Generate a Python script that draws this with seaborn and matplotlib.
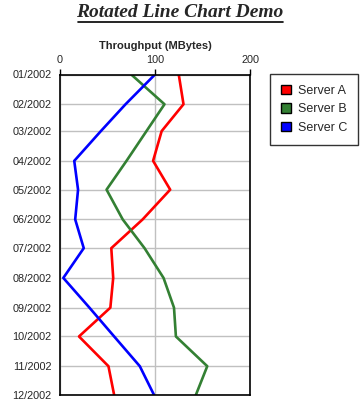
import numpy as np
import pandas as pd
import matplotlib
matplotlib.use("Agg")
import matplotlib.pyplot as plt
import matplotlib.dates as mdates
from matplotlib.patches import Patch
from matplotlib.lines import Line2D
import seaborn as sns

# data
months = pd.date_range("2002-01-01", periods=12, freq="MS")
server_a = [125, 130, 107, 98, 116, 87, 54, 56, 53, 20, 51, 57]
server_b = [75, 110, 91, 70, 49, 66, 89, 109, 120, 122, 155, 143]
server_c = [100, 69, 43, 15, 19, 16, 25, 3.5, 31, 57, 84, 99]
series_names = ["Server A", "Server B", "Server C"]
colors = ["#ff0000", "#338033", "#0000ff"]

df = pd.DataFrame({
    "month": np.tile(months, 3),
    "value": server_a + server_b + server_c,
    "server": np.repeat(series_names, 12),
})

sns.set_style("white")
plt.rcParams["font.family"] = ["Liberation Sans", "DejaVu Sans"]

fig = plt.figure(figsize=(3.6, 4.0), dpi=100)
ax = fig.add_axes([60 / 360, 1 - 395 / 400, 190 / 360, (395 - 74.5) / 400])

sns.lineplot(data=df, x="value", y="month", hue="server", orient="y",
             palette=colors, linewidth=1.9, ax=ax, legend=False, sort=False)

ax.set_xlim(0, 200)
ax.set_ylim(months[-1], months[0])
ax.set_xticks([0, 100, 200])
ax.set_yticks(months)
ax.yaxis.set_major_formatter(mdates.DateFormatter("%m/%Y"))
ax.xaxis.tick_top()
ax.xaxis.set_label_position("top")
ax.set_xlabel("Throughput (MBytes)", fontsize=8, fontweight="bold", labelpad=4)
ax.set_ylabel("")
ax.tick_params(axis="both", direction="out", length=4, width=1, color="black",
               labelsize=7.8, pad=2)
ax.tick_params(axis="x", pad=3)
ax.grid(True, color="#c0c0c0", linewidth=1)
ax.set_axisbelow(True)
for sp in ax.spines.values():
    sp.set_color("black")
    sp.set_linewidth(1.2)

# title, underlined
fig.text(0.5, 1 - 12.5 / 400, "Rotated Line Chart Demo", ha="center", va="center",
         fontsize=14, fontweight="bold", fontstyle="italic",
         family=["Liberation Serif", "DejaVu Serif"])
fig.add_artist(Line2D([78 / 360, 283 / 360], [1 - 21.5 / 400, 1 - 21.5 / 400],
                      color="black", linewidth=1.2))

handles = [Patch(facecolor=c, edgecolor="black", linewidth=1) for c in colors]
leg = fig.legend(handles, series_names, loc="upper left",
                 bbox_to_anchor=(270 / 360, 1 - 73.5 / 400), fontsize=9,
                 frameon=True, fancybox=False, edgecolor="black",
                 handlelength=0.8, handleheight=0.8, handletextpad=0.5,
                 borderpad=0.9, labelspacing=0.5, borderaxespad=0)
leg.get_frame().set_linewidth(1)

fig.savefig("out.png", dpi=100)
